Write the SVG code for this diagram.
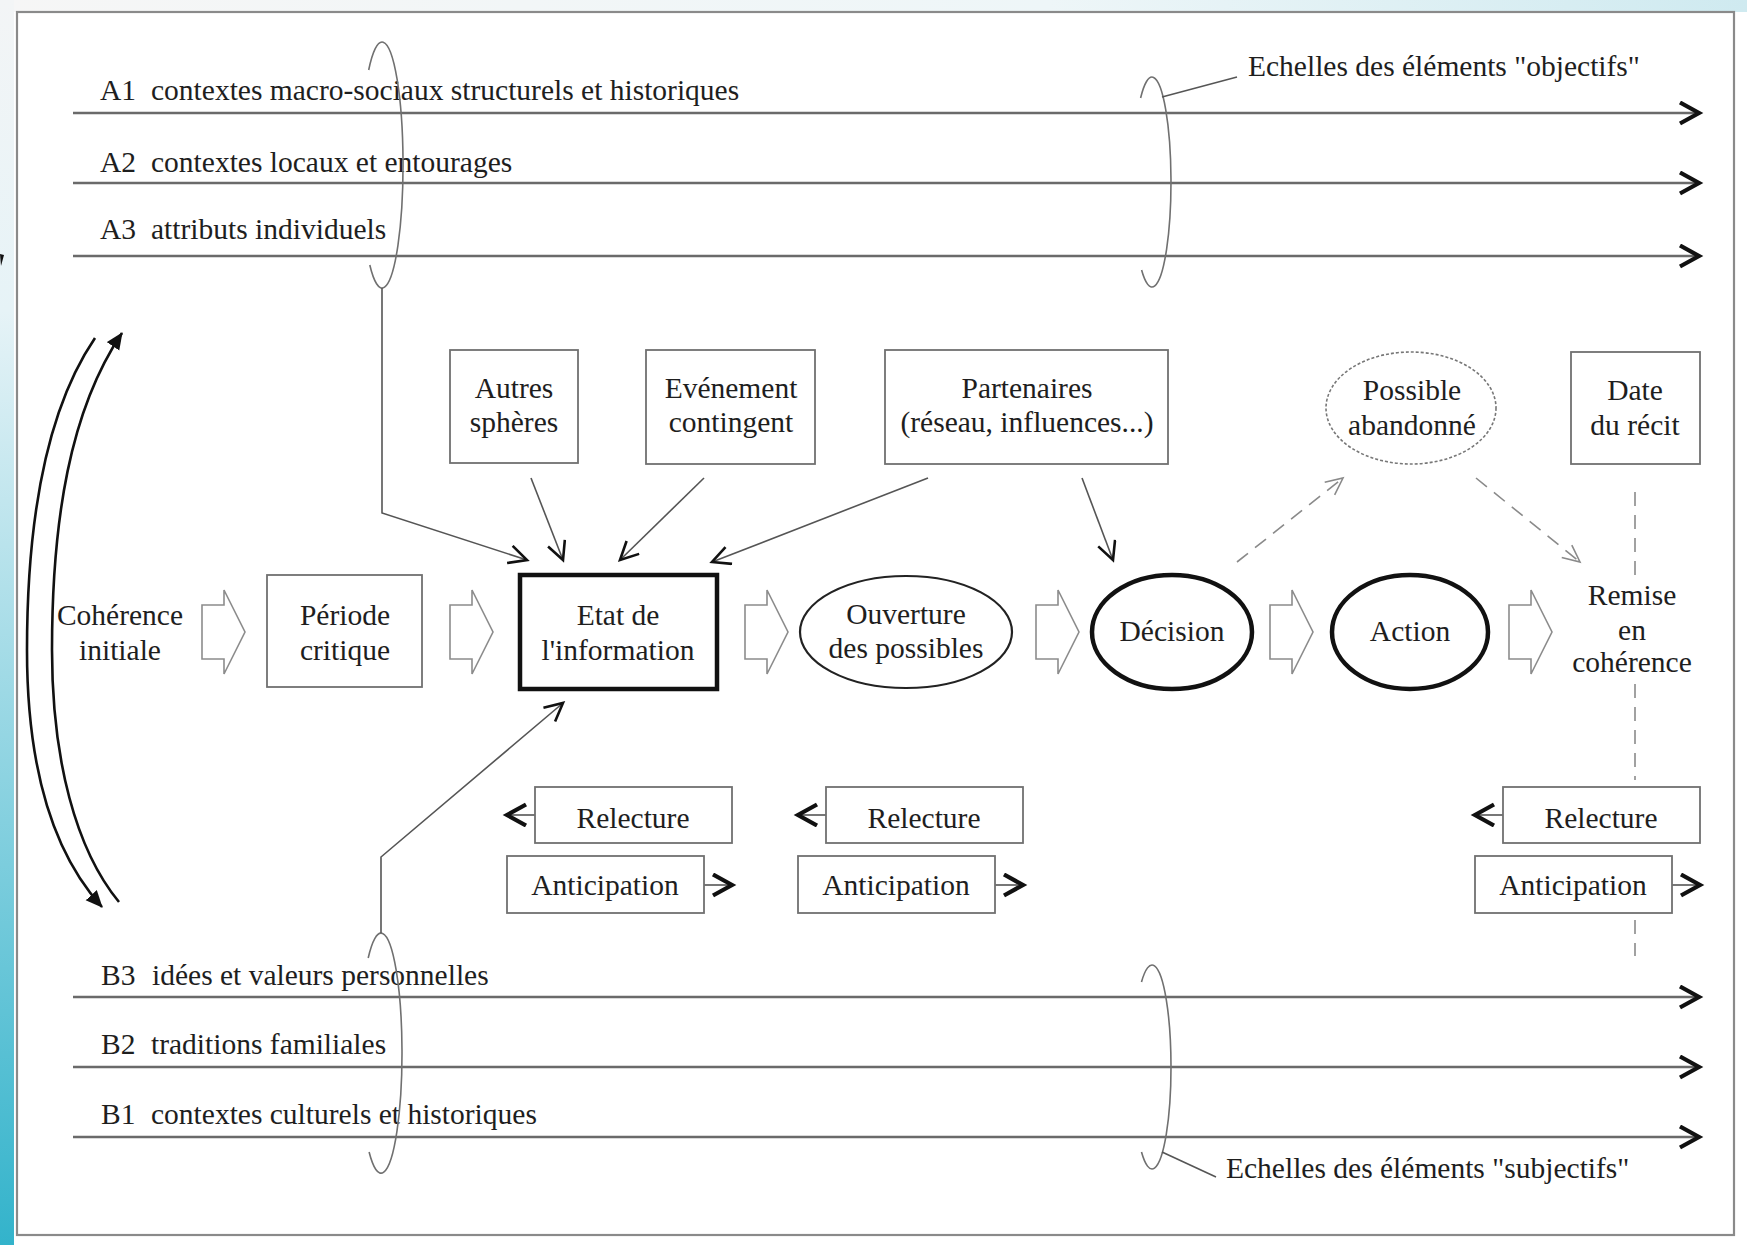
<svg xmlns="http://www.w3.org/2000/svg" xmlns:xlink="http://www.w3.org/1999/xlink" width="1747" height="1245" viewBox="0 0 1747 1245">
<style>
  text { font-family: "Liberation Serif", "Times New Roman", serif; font-size: 29.5px; fill: #1e1e1e; }
  .c { text-anchor: middle; }
  .box { fill: #ffffff; stroke: #707070; stroke-width: 1.8; }
  .thick { fill: #ffffff; stroke: #111111; stroke-width: 4.5; }
  .scale { fill: none; stroke: #6a6a6a; stroke-width: 2.4; }
  .bracket { fill: none; stroke: #707070; stroke-width: 1.6; }
  .conn { fill: none; stroke: #555555; stroke-width: 1.6; }
  .dash { fill: none; stroke: #8a8a8a; stroke-width: 1.6; stroke-dasharray: 14 9; }
  .blk { fill: #ffffff; stroke: #8c8c8c; stroke-width: 1.6; }
  .loop { fill: none; stroke: #111111; stroke-width: 2.6; }
</style>
<defs>
  <linearGradient id="leftGrad" x1="0" y1="0" x2="0" y2="1">
    <stop offset="0" stop-color="#f3f5f6"/>
    <stop offset="0.25" stop-color="#e6f3f7"/>
    <stop offset="1" stop-color="#33b3cb"/>
  </linearGradient>
  <linearGradient id="topGrad" x1="0" y1="0" x2="1" y2="0">
    <stop offset="0" stop-color="#f6f6f6"/>
    <stop offset="0.6" stop-color="#eef6f8"/>
    <stop offset="1" stop-color="#cfeaf0"/>
  </linearGradient>
  <marker id="chev" markerUnits="userSpaceOnUse" markerWidth="30" markerHeight="30" refX="22" refY="12" orient="auto">
    <path d="M3,1.5 L22,12 L3,22.5" fill="none" stroke="#111" stroke-width="4.2" stroke-linejoin="miter"/>
  </marker>
  <marker id="open" markerUnits="userSpaceOnUse" markerWidth="26" markerHeight="26" refX="19" refY="10" orient="auto">
    <path d="M1,1 L19,10 L1,19" fill="none" stroke="#111" stroke-width="2.6"/>
  </marker>
  <marker id="openDash" markerUnits="userSpaceOnUse" markerWidth="24" markerHeight="24" refX="18" refY="9" orient="auto">
    <path d="M1,1 L18,9 L1,17" fill="none" stroke="#8a8a8a" stroke-width="1.6"/>
  </marker>
  <marker id="tri" markerUnits="userSpaceOnUse" markerWidth="22" markerHeight="22" refX="16" refY="7.5" orient="auto">
    <path d="M0,0 L17,7.5 L0,15 Z" fill="#111"/>
  </marker>
  <path id="blkArrow" class="blk" d="M0,605 L22,605 L22,590 L43,632 L22,674 L22,659 L0,659 Z"/>
</defs>

<!-- background -->
<rect x="0" y="0" width="1747" height="1245" fill="#ffffff"/>
<rect x="0" y="0" width="1747" height="12" fill="url(#topGrad)"/>
<rect x="0" y="0" width="14" height="1245" fill="url(#leftGrad)"/>
<path d="M0,254 L4,255 L1,266 Z" fill="#111"/>
<rect x="17" y="12" width="1717" height="1223" fill="#ffffff" stroke="#8a8a8a" stroke-width="2.2"/>

<!-- scales -->
<g id="scales-objectifs">
  <line class="scale" x1="73" y1="113" x2="1699" y2="113" marker-end="url(#chev)"/>
  <line class="scale" x1="73" y1="183" x2="1699" y2="183" marker-end="url(#chev)"/>
  <line class="scale" x1="73" y1="256" x2="1699" y2="256" marker-end="url(#chev)"/>
  <text x="100" y="100">A1</text><text x="151" y="100">contextes macro-sociaux structurels et historiques</text>
  <text x="100" y="172">A2</text><text x="151" y="172">contextes locaux et entourages</text>
  <text x="100" y="239">A3</text><text x="151" y="239">attributs individuels</text>
  <path class="bracket" d="M368.7,70 A21,123 0 1 1 369.8,265"/>
  <path class="bracket" d="M1140.6,98 A19,105 0 1 1 1141.6,270"/>
  <line class="conn" x1="1162" y1="97" x2="1237" y2="77"/>
  <text x="1248" y="76">Echelles des éléments "objectifs"</text>
</g>
<g id="scales-subjectifs">
  <line class="scale" x1="73" y1="997" x2="1699" y2="997" marker-end="url(#chev)"/>
  <line class="scale" x1="73" y1="1067" x2="1699" y2="1067" marker-end="url(#chev)"/>
  <line class="scale" x1="73" y1="1137" x2="1699" y2="1137" marker-end="url(#chev)"/>
  <text x="101" y="985">B3</text><text x="152" y="985">idées et valeurs personnelles</text>
  <text x="101" y="1054">B2</text><text x="151" y="1054">traditions familiales</text>
  <text x="101" y="1124">B1</text><text x="151" y="1124">contextes culturels et historiques</text>
  <path class="bracket" d="M368.2,958 A21,120 0 1 1 369.1,1152"/>
  <path class="bracket" d="M1141.5,982 A19,102 0 1 1 1141.5,1152"/>
  <line class="conn" x1="1162" y1="1152" x2="1216" y2="1177"/>
  <text x="1226" y="1178">Echelles des éléments "subjectifs"</text>
</g>

<!-- connectors -->
<g id="connectors">
  <polyline class="conn" points="382,288 382,513 527,560" marker-end="url(#open)"/>
  <polyline class="conn" points="381,933 381,857 563,703" marker-end="url(#open)"/>
  <line class="conn" x1="531" y1="478" x2="563" y2="560" marker-end="url(#open)"/>
  <line class="conn" x1="704" y1="478" x2="620" y2="560" marker-end="url(#open)"/>
  <line class="conn" x1="928" y1="478" x2="712" y2="562" marker-end="url(#open)"/>
  <line class="conn" x1="1082" y1="478" x2="1113" y2="560" marker-end="url(#open)"/>
  <line class="dash" x1="1237" y1="562" x2="1343" y2="478" marker-end="url(#openDash)"/>
  <line class="dash" x1="1476" y1="478" x2="1580" y2="562" marker-end="url(#openDash)"/>
  <line class="dash" x1="1635" y1="492" x2="1635" y2="576"/>
  <line class="dash" x1="1635" y1="684" x2="1635" y2="780"/>
  <line class="dash" x1="1635" y1="920" x2="1635" y2="956"/>
  <path class="loop" d="M95,338 C46,410 27,520 27,650 C27,765 52,852 102,907" marker-end="url(#tri)"/>
  <path class="loop" d="M119,902 C76,850 52,760 52,650 C52,520 70,410 122,333" marker-end="url(#tri)"/>
  <use xlink:href="#blkArrow" x="202"/>
  <use xlink:href="#blkArrow" x="450"/>
  <use xlink:href="#blkArrow" x="745"/>
  <use xlink:href="#blkArrow" x="1036"/>
  <use xlink:href="#blkArrow" x="1270"/>
  <use xlink:href="#blkArrow" x="1509"/>
</g>

<!-- nodes -->
<g id="autres-spheres">
  <rect class="box" x="450" y="350" width="128" height="113"/>
  <text class="c" x="514" y="398">Autres</text><text class="c" x="514" y="432">sphères</text>
</g>
<g id="evenement-contingent">
  <rect class="box" x="646" y="350" width="169" height="114"/>
  <text class="c" x="731" y="398">Evénement</text><text class="c" x="731" y="432">contingent</text>
</g>
<g id="partenaires">
  <rect class="box" x="885" y="350" width="283" height="114"/>
  <text class="c" x="1027" y="398">Partenaires</text><text class="c" x="1027" y="432">(réseau, influences...)</text>
</g>
<g id="possible-abandonne">
  <ellipse cx="1411" cy="408" rx="85" ry="56" fill="#fff" stroke="#777" stroke-width="1.6" stroke-dasharray="3 2"/>
  <text class="c" x="1412" y="400">Possible</text><text class="c" x="1412" y="435">abandonné</text>
</g>
<g id="date-recit">
  <rect class="box" x="1571" y="352" width="129" height="112"/>
  <text class="c" x="1635" y="400">Date</text><text class="c" x="1635" y="435">du récit</text>
</g>
<g id="coherence-initiale">
  <text class="c" x="120" y="625">Cohérence</text><text class="c" x="120" y="660">initiale</text>
</g>
<g id="periode-critique">
  <rect class="box" x="267" y="575" width="155" height="112"/>
  <text class="c" x="345" y="625">Période</text><text class="c" x="345" y="660">critique</text>
</g>
<g id="etat-information">
  <rect class="thick" x="520" y="575" width="197" height="114"/>
  <text class="c" x="618" y="625">Etat de</text><text class="c" x="618" y="660">l'information</text>
</g>
<g id="ouverture-possibles">
  <ellipse cx="906" cy="632" rx="106" ry="56" fill="#fff" stroke="#222" stroke-width="2.2"/>
  <text class="c" x="906" y="624">Ouverture</text><text class="c" x="906" y="658">des possibles</text>
</g>
<g id="decision">
  <ellipse cx="1172" cy="632" rx="80" ry="57" class="thick"/>
  <text class="c" x="1172" y="641">Décision</text>
</g>
<g id="action">
  <ellipse cx="1410" cy="632" rx="78" ry="57" class="thick"/>
  <text class="c" x="1410" y="641">Action</text>
</g>
<g id="remise-coherence">
  <text class="c" x="1632" y="605">Remise</text><text class="c" x="1632" y="640">en</text><text class="c" x="1632" y="672">cohérence</text>
</g>

<g id="relecture-1">
  <line class="conn" x1="535" y1="815" x2="507" y2="815" marker-end="url(#chev)"/>
  <rect class="box" x="535" y="787" width="197" height="56"/>
  <text class="c" x="633" y="828">Relecture</text>
</g>
<g id="anticipation-1">
  <line class="conn" x1="704" y1="885" x2="732" y2="885" marker-end="url(#chev)"/>
  <rect class="box" x="507" y="856" width="197" height="57"/>
  <text class="c" x="605" y="895">Anticipation</text>
</g>
<g id="relecture-2">
  <line class="conn" x1="826" y1="815" x2="798" y2="815" marker-end="url(#chev)"/>
  <rect class="box" x="826" y="787" width="197" height="56"/>
  <text class="c" x="924" y="828">Relecture</text>
</g>
<g id="anticipation-2">
  <line class="conn" x1="995" y1="885" x2="1023" y2="885" marker-end="url(#chev)"/>
  <rect class="box" x="798" y="856" width="197" height="57"/>
  <text class="c" x="896" y="895">Anticipation</text>
</g>
<g id="relecture-3">
  <line class="conn" x1="1503" y1="815" x2="1475" y2="815" marker-end="url(#chev)"/>
  <rect class="box" x="1503" y="787" width="197" height="56"/>
  <text class="c" x="1601" y="828">Relecture</text>
</g>
<g id="anticipation-3">
  <line class="conn" x1="1672" y1="885" x2="1700" y2="885" marker-end="url(#chev)"/>
  <rect class="box" x="1475" y="856" width="197" height="57"/>
  <text class="c" x="1573" y="895">Anticipation</text>
</g>
</svg>
